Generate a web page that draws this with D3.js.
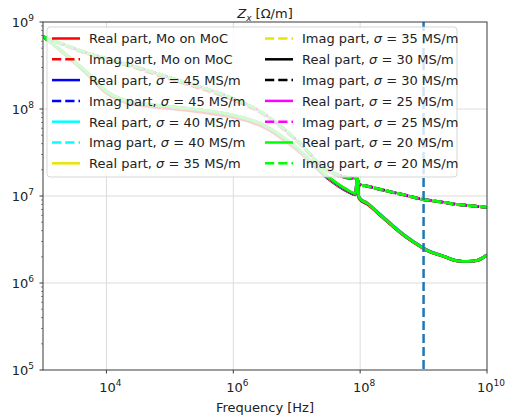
<!DOCTYPE html>
<html>
<head>
<meta charset="utf-8">
<script src="https://cdn.jsdelivr.net/npm/d3@7"></script>
<style>
body { margin: 0; background: #fff; }
svg text { font-family: "DejaVu Sans", sans-serif; fill: #222; }
</style>
</head>
<body>
<svg id="chart" width="506" height="419"></svg>
<script>
// Impedance Z_x vs frequency, log-log
const freqHz = [1e3, 2e3, 5e3, 1e4, 2e4, 5e4, 1e5, 3e5, 1e6, 2.6e6, 1e7, 3e7, 6e7, 8.5e7,
    8.9e7, 9.1e7, 9.5e7, 1e8, 1.3e8, 2e8, 5e8, 1e9, 1.1e9, 2e9, 3.4e9, 5e9, 7e9, 1e10];

const realMoC = [6.8e8, 4.5e8, 2.5e8, 1.52e8, 1.18e8, 1.06e8, 1.01e8, 9.2e7, 8.0e7, 6.5e7, 3.4e7, 1.62e7, 1.15e7, 1.03e7,
    1.5e7, 1.42e7, 9.6e6, 9.0e6, 8.0e6, 6.1e6, 3.45e6, 2.47e6, 2.37e6, 2.03e6, 1.79e6, 1.76e6, 1.81e6, 2.08e6];
const imagMoC = [6.8e8, 5.5e8, 4.3e8, 3.7e8, 3.2e8, 2.6e8, 2.2e8, 1.72e8, 1.27e8, 9.2e7, 4.3e7, 1.95e7, 1.62e7, 1.58e7,
    1.58e7, 1.53e7, 1.38e7, 1.34e7, 1.29e7, 1.19e7, 1.02e7, 9.05e6, 8.95e6, 8.45e6, 7.95e6, 7.75e6, 7.55e6, 7.35e6];

const real45 = [6.8e8, 4.6e8, 2.6e8, 1.58e8, 1.24e8, 1.11e8, 1.06e8, 9.7e7, 8.4e7, 6.8e7, 3.5e7, 1.65e7, 1.16e7, 1.04e7,
    1.52e7, 1.44e7, 9.8e6, 9.3e6, 8.3e6, 6.3e6, 3.55e6, 2.53e6, 2.43e6, 2.06e6, 1.8e6, 1.77e6, 1.82e6, 2.1e6];
const imag45 = [6.8e8, 5.6e8, 4.4e8, 3.8e8, 3.3e8, 2.7e8, 2.3e8, 1.8e8, 1.31e8, 9.4e7, 4.35e7, 1.98e7, 1.64e7, 1.59e7,
    1.59e7, 1.54e7, 1.39e7, 1.35e7, 1.3e7, 1.2e7, 1.03e7, 9.1e6, 9.0e6, 8.5e6, 8.0e6, 7.8e6, 7.6e6, 7.4e6];
const real40 = [6.8e8, 4.6e8, 2.6e8, 1.59e8, 1.24e8, 1.11e8, 1.06e8, 9.7e7, 8.4e7, 6.85e7, 3.52e7, 1.66e7, 1.17e7, 1.04e7,
    1.54e7, 1.45e7, 9.8e6, 9.3e6, 8.3e6, 6.3e6, 3.55e6, 2.52e6, 2.42e6, 2.06e6, 1.8e6, 1.77e6, 1.82e6, 2.1e6];
const imag40 = [6.8e8, 5.6e8, 4.4e8, 3.8e8, 3.3e8, 2.7e8, 2.3e8, 1.8e8, 1.31e8, 9.4e7, 4.37e7, 1.99e7, 1.64e7, 1.59e7,
    1.59e7, 1.54e7, 1.39e7, 1.35e7, 1.3e7, 1.2e7, 1.03e7, 9.1e6, 9.0e6, 8.5e6, 8.0e6, 7.8e6, 7.6e6, 7.4e6];
const real35 = [6.8e8, 4.6e8, 2.6e8, 1.59e8, 1.25e8, 1.12e8, 1.07e8, 9.75e7, 8.45e7, 6.85e7, 3.55e7, 1.67e7, 1.18e7, 1.05e7,
    1.56e7, 1.46e7, 9.9e6, 9.3e6, 8.3e6, 6.25e6, 3.52e6, 2.51e6, 2.41e6, 2.05e6, 1.8e6, 1.77e6, 1.82e6, 2.1e6];
const imag35 = [6.8e8, 5.6e8, 4.4e8, 3.8e8, 3.3e8, 2.7e8, 2.3e8, 1.8e8, 1.32e8, 9.45e7, 4.38e7, 1.99e7, 1.65e7, 1.6e7,
    1.6e7, 1.55e7, 1.4e7, 1.35e7, 1.3e7, 1.2e7, 1.03e7, 9.1e6, 9.0e6, 8.5e6, 8.0e6, 7.8e6, 7.6e6, 7.4e6];
const real30 = [6.8e8, 4.6e8, 2.6e8, 1.6e8, 1.25e8, 1.12e8, 1.07e8, 9.75e7, 8.45e7, 6.9e7, 3.57e7, 1.68e7, 1.18e7, 1.05e7,
    1.57e7, 1.48e7, 9.9e6, 9.3e6, 8.2e6, 6.2e6, 3.5e6, 2.5e6, 2.4e6, 2.05e6, 1.8e6, 1.77e6, 1.82e6, 2.1e6];
const imag30 = [6.8e8, 5.6e8, 4.4e8, 3.8e8, 3.3e8, 2.7e8, 2.3e8, 1.8e8, 1.32e8, 9.5e7, 4.4e7, 2.0e7, 1.65e7, 1.6e7,
    1.6e7, 1.55e7, 1.4e7, 1.35e7, 1.3e7, 1.2e7, 1.03e7, 9.1e6, 9.0e6, 8.5e6, 8.0e6, 7.8e6, 7.6e6, 7.4e6];
const real25 = [6.8e8, 4.6e8, 2.6e8, 1.6e8, 1.25e8, 1.12e8, 1.07e8, 9.8e7, 8.5e7, 6.9e7, 3.58e7, 1.69e7, 1.19e7, 1.06e7,
    1.58e7, 1.49e7, 1.0e7, 9.3e6, 8.2e6, 6.2e6, 3.5e6, 2.5e6, 2.4e6, 2.05e6, 1.8e6, 1.77e6, 1.82e6, 2.1e6];
const imag25 = [6.8e8, 5.6e8, 4.4e8, 3.8e8, 3.3e8, 2.7e8, 2.3e8, 1.8e8, 1.32e8, 9.5e7, 4.4e7, 2.0e7, 1.65e7, 1.6e7,
    1.6e7, 1.55e7, 1.4e7, 1.35e7, 1.3e7, 1.2e7, 1.03e7, 9.1e6, 9.0e6, 8.5e6, 8.0e6, 7.8e6, 7.6e6, 7.4e6];
const real20 = [6.8e8, 4.6e8, 2.6e8, 1.6e8, 1.25e8, 1.12e8, 1.07e8, 9.8e7, 8.5e7, 6.9e7, 3.6e7, 1.7e7, 1.2e7, 1.07e7,
    1.6e7, 1.5e7, 1.0e7, 9.3e6, 8.2e6, 6.2e6, 3.5e6, 2.5e6, 2.4e6, 2.05e6, 1.8e6, 1.77e6, 1.82e6, 2.1e6];
const imag20 = [6.8e8, 5.6e8, 4.4e8, 3.8e8, 3.3e8, 2.7e8, 2.3e8, 1.8e8, 1.32e8, 9.5e7, 4.4e7, 2.0e7, 1.65e7, 1.6e7,
    1.6e7, 1.55e7, 1.4e7, 1.35e7, 1.3e7, 1.2e7, 1.03e7, 9.1e6, 9.0e6, 8.5e6, 8.0e6, 7.8e6, 7.6e6, 7.4e6];

const seriesNames = ["Mo on MoC", "45", "40", "35", "30", "25", "20"];
const seriesColors = ["#ff0000", "#0000ff", "#00ffff", "#e6e600", "#000000", "#ff00ff", "#00ff00"];
const realValues = [realMoC, real45, real40, real35, real30, real25, real20];
const imagValues = [imagMoC, imag45, imag40, imag35, imag30, imag25, imag20];
const dashShift = [0, 0, 0, 0, -2.2, -1.5, 0];

const xTicks = [1e4, 1e6, 1e8, 1e10];
const yTicks = [1e5, 1e6, 1e7, 1e8, 1e9];
const cutoffHz = 1e9;

const margin = { left: 43, right: 487, top: 22, bottom: 370 };

const svg = d3.select("#chart");

const x = d3.scaleLog().domain([1e3, 1e10]).range([margin.left, margin.right]);
const y = d3.scaleLog().domain([1e5, 1e9]).range([margin.bottom, margin.top]);

svg.append("defs").append("clipPath").attr("id", "clip")
    .append("rect")
    .attr("x", margin.left).attr("y", margin.top)
    .attr("width", margin.right - margin.left).attr("height", margin.bottom - margin.top);

// grid
svg.append("g").selectAll("line")
    .data(xTicks.filter(d => d < 1e10))
    .enter().append("line")
    .attr("x1", d => x(d)).attr("x2", d => x(d))
    .attr("y1", margin.top).attr("y2", margin.bottom)
    .attr("stroke", "#dcdcdc").attr("stroke-width", 1);
svg.append("g").selectAll("line")
    .data(yTicks.filter(d => d > 1e5 && d < 1e9))
    .enter().append("line")
    .attr("y1", d => y(d)).attr("y2", d => y(d))
    .attr("x1", margin.left).attr("x2", margin.right)
    .attr("stroke", "#dcdcdc").attr("stroke-width", 1);

// lines
const line = d3.line()
    .x((d, i) => x(freqHz[i]))
    .y(d => y(d))
    .curve(d3.curveMonotoneX);

const plot = svg.append("g").attr("clip-path", "url(#clip)");
seriesNames.forEach((name, k) => {
    plot.append("path")
        .attr("d", line(realValues[k]))
        .attr("fill", "none")
        .attr("stroke", seriesColors[k])
        .attr("stroke-width", 2.8);
    plot.append("path")
        .attr("d", line(imagValues[k]))
        .attr("fill", "none")
        .attr("stroke", seriesColors[k])
        .attr("stroke-width", 2.8)
        .attr("stroke-dasharray", "9,3")
        .attr("stroke-dashoffset", dashShift[k]);
});

// cutoff marker
plot.append("line")
    .attr("x1", x(cutoffHz)).attr("x2", x(cutoffHz))
    .attr("y1", margin.top).attr("y2", margin.bottom)
    .attr("stroke", "#1f77b4")
    .attr("stroke-width", 2.5)
    .attr("stroke-dasharray", "9,4");

// spines
svg.append("rect")
    .attr("x", margin.left).attr("y", margin.top)
    .attr("width", margin.right - margin.left).attr("height", margin.bottom - margin.top)
    .attr("fill", "none").attr("stroke", "#3a3a3a").attr("stroke-width", 1);

// ticks
const ax = svg.append("g");
ax.selectAll(".xt").data(xTicks).enter().append("line")
    .attr("x1", d => x(d)).attr("x2", d => x(d))
    .attr("y1", margin.bottom).attr("y2", margin.bottom + 3.5)
    .attr("stroke", "#3a3a3a");
ax.selectAll(".yt").data(yTicks).enter().append("line")
    .attr("y1", d => y(d)).attr("y2", d => y(d))
    .attr("x1", margin.left).attr("x2", margin.left - 3.5)
    .attr("stroke", "#3a3a3a");
const minor = y.ticks().filter(d => yTicks.indexOf(d) < 0);
ax.selectAll(".ym").data(minor).enter().append("line")
    .attr("y1", d => y(d)).attr("y2", d => y(d))
    .attr("x1", margin.left).attr("x2", margin.left - 2)
    .attr("stroke", "#3a3a3a").attr("stroke-width", 0.6);

function powLabel(sel) {
    sel.append("tspan").text("10");
    sel.append("tspan")
        .attr("font-size", "9px")
        .attr("dy", -6)
        .text(d => Math.round(Math.log10(d)));
}

ax.selectAll(".xl").data(xTicks).enter().append("text")
    .attr("x", d => x(d) + 4)
    .attr("y", 392)
    .attr("text-anchor", "middle")
    .attr("font-size", "13px")
    .call(powLabel);
ax.selectAll(".yl").data(yTicks).enter().append("text")
    .attr("x", 34)
    .attr("y", d => y(d) + 5)
    .attr("text-anchor", "end")
    .attr("font-size", "13px")
    .call(powLabel);

// title and axis label
const title = svg.append("text")
    .attr("x", 265).attr("y", 18)
    .attr("text-anchor", "middle")
    .attr("font-size", "13px");
title.append("tspan").attr("font-style", "italic").text("Z");
title.append("tspan").attr("font-style", "italic").attr("font-size", "9px").attr("dy", 2.5).text("x");
title.append("tspan").attr("dy", -2.5).text(" [Ω/m]");

svg.append("text")
    .attr("x", 265).attr("y", 412)
    .attr("text-anchor", "middle")
    .attr("font-size", "13px")
    .text("Frequency [Hz]");

// legend
const entries = [];
seriesNames.forEach((name, k) => {
    entries.push({ part: "Real", name: name, color: seriesColors[k], dashed: false });
    entries.push({ part: "Imag", name: name, color: seriesColors[k], dashed: true });
});

const legend = svg.append("g");
legend.append("rect")
    .attr("x", 47).attr("y", 27)
    .attr("width", 410).attr("height", 150)
    .attr("rx", 3).attr("ry", 3)
    .attr("fill", "#fff").attr("fill-opacity", 0.8)
    .attr("stroke", "#cccccc").attr("stroke-opacity", 0.8);

const colX = [52, 265];
const item = legend.selectAll(".item")
    .data(entries)
    .enter().append("g")
    .attr("transform", (d, i) => `translate(${colX[Math.floor(i / 7)]},${38.5 + (i % 7) * 20.8})`);

item.append("line")
    .attr("x1", 0).attr("x2", 28)
    .attr("stroke", d => d.color)
    .attr("stroke-width", 2.5)
    .attr("stroke-dasharray", d => d.dashed ? "9.25,4" : null);

const lt = item.append("text")
    .attr("x", 37).attr("y", 4.8)
    .attr("font-size", "13px");
lt.each(function (d) {
    const t = d3.select(this);
    if (d.name === "Mo on MoC") {
        t.text(`${d.part} part, Mo on MoC`);
    } else {
        t.append("tspan").text(`${d.part} part, `);
        t.append("tspan").attr("font-style", "italic").text("σ");
        t.append("tspan").text(` = ${d.name} MS/m`);
    }
});
</script>
</body>
</html>
